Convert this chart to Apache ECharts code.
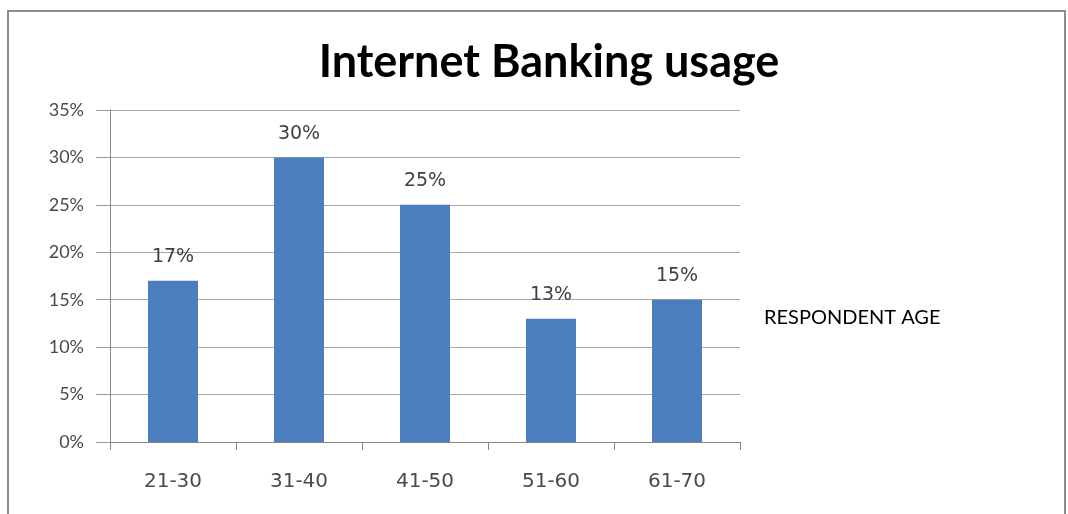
<!DOCTYPE html>
<html>
<head>
<meta charset="utf-8">
<script src="https://cdn.jsdelivr.net/npm/echarts@6/dist/echarts.min.js"></script>
<style>
html,body{margin:0;padding:0;background:#fff;}
#chart{width:1068px;height:514px;}
</style>
</head>
<body>
<div id="chart"></div>
<script>
var categories = ['21-30', '31-40', '41-50', '51-60', '61-70'];
var usage = [17, 30, 25, 13, 15];
var seriesName = 'RESPONDENT AGE';
var chartTitle = 'Internet Banking usage';

var chart = echarts.init(document.getElementById('chart'), null, {renderer: 'canvas'});
chart.setOption({
  animation: false,
  backgroundColor: '#ffffff',
  title: {
    text: chartTitle,
    left: 544,
    top: 35,
    textAlign: 'center',
    textStyle: {fontFamily: 'Lato', fontWeight: 'bold', fontSize: 45, color: '#000000'}
  },
  legend: {
    data: [seriesName],
    left: 754,
    top: 303,
    icon: 'none',
    itemWidth: 0,
    itemHeight: 0,
    textStyle: {fontFamily: 'Lato', fontSize: 20, color: '#000000'}
  },
  grid: {left: 110, right: 328, top: 110, bottom: 72, containLabel: false},
  xAxis: {
    type: 'category',
    data: categories,
    axisLine: {lineStyle: {color: '#868686', width: 1}},
    axisTick: {show: true, length: 8, alignWithLabel: false, lineStyle: {color: '#868686'}},
    axisLabel: {fontFamily: 'DejaVu Sans', fontSize: 20, color: '#4a4a4a', margin: 30}
  },
  yAxis: {
    type: 'value',
    min: 0,
    max: 35,
    interval: 5,
    axisLine: {show: true, lineStyle: {color: '#868686', width: 1}},
    axisTick: {show: true, length: 14, lineStyle: {color: '#9a9a9a'}},
    splitLine: {show: true, lineStyle: {color: '#a6a6a6', width: 1}},
    axisLabel: {formatter: '{value}%', fontFamily: 'Lato', fontSize: 18, color: '#4a4a4a', margin: 26}
  },
  series: [{
    name: seriesName,
    type: 'bar',
    data: usage,
    barWidth: 50,
    itemStyle: {color: '#4a7ebf'},
    label: {
      show: true,
      position: 'top',
      distance: 14,
      formatter: '{c}%',
      fontFamily: 'DejaVu Sans',
      fontSize: 19,
      color: '#404040'
    }
  }],
  graphic: [{
    type: 'rect',
    shape: {x: 8, y: 11, width: 1057, height: 520},
    style: {fill: 'none', stroke: '#8c8c8c', lineWidth: 2},
    silent: true,
    z: -1
  }]
});
</script>
</body>
</html>
